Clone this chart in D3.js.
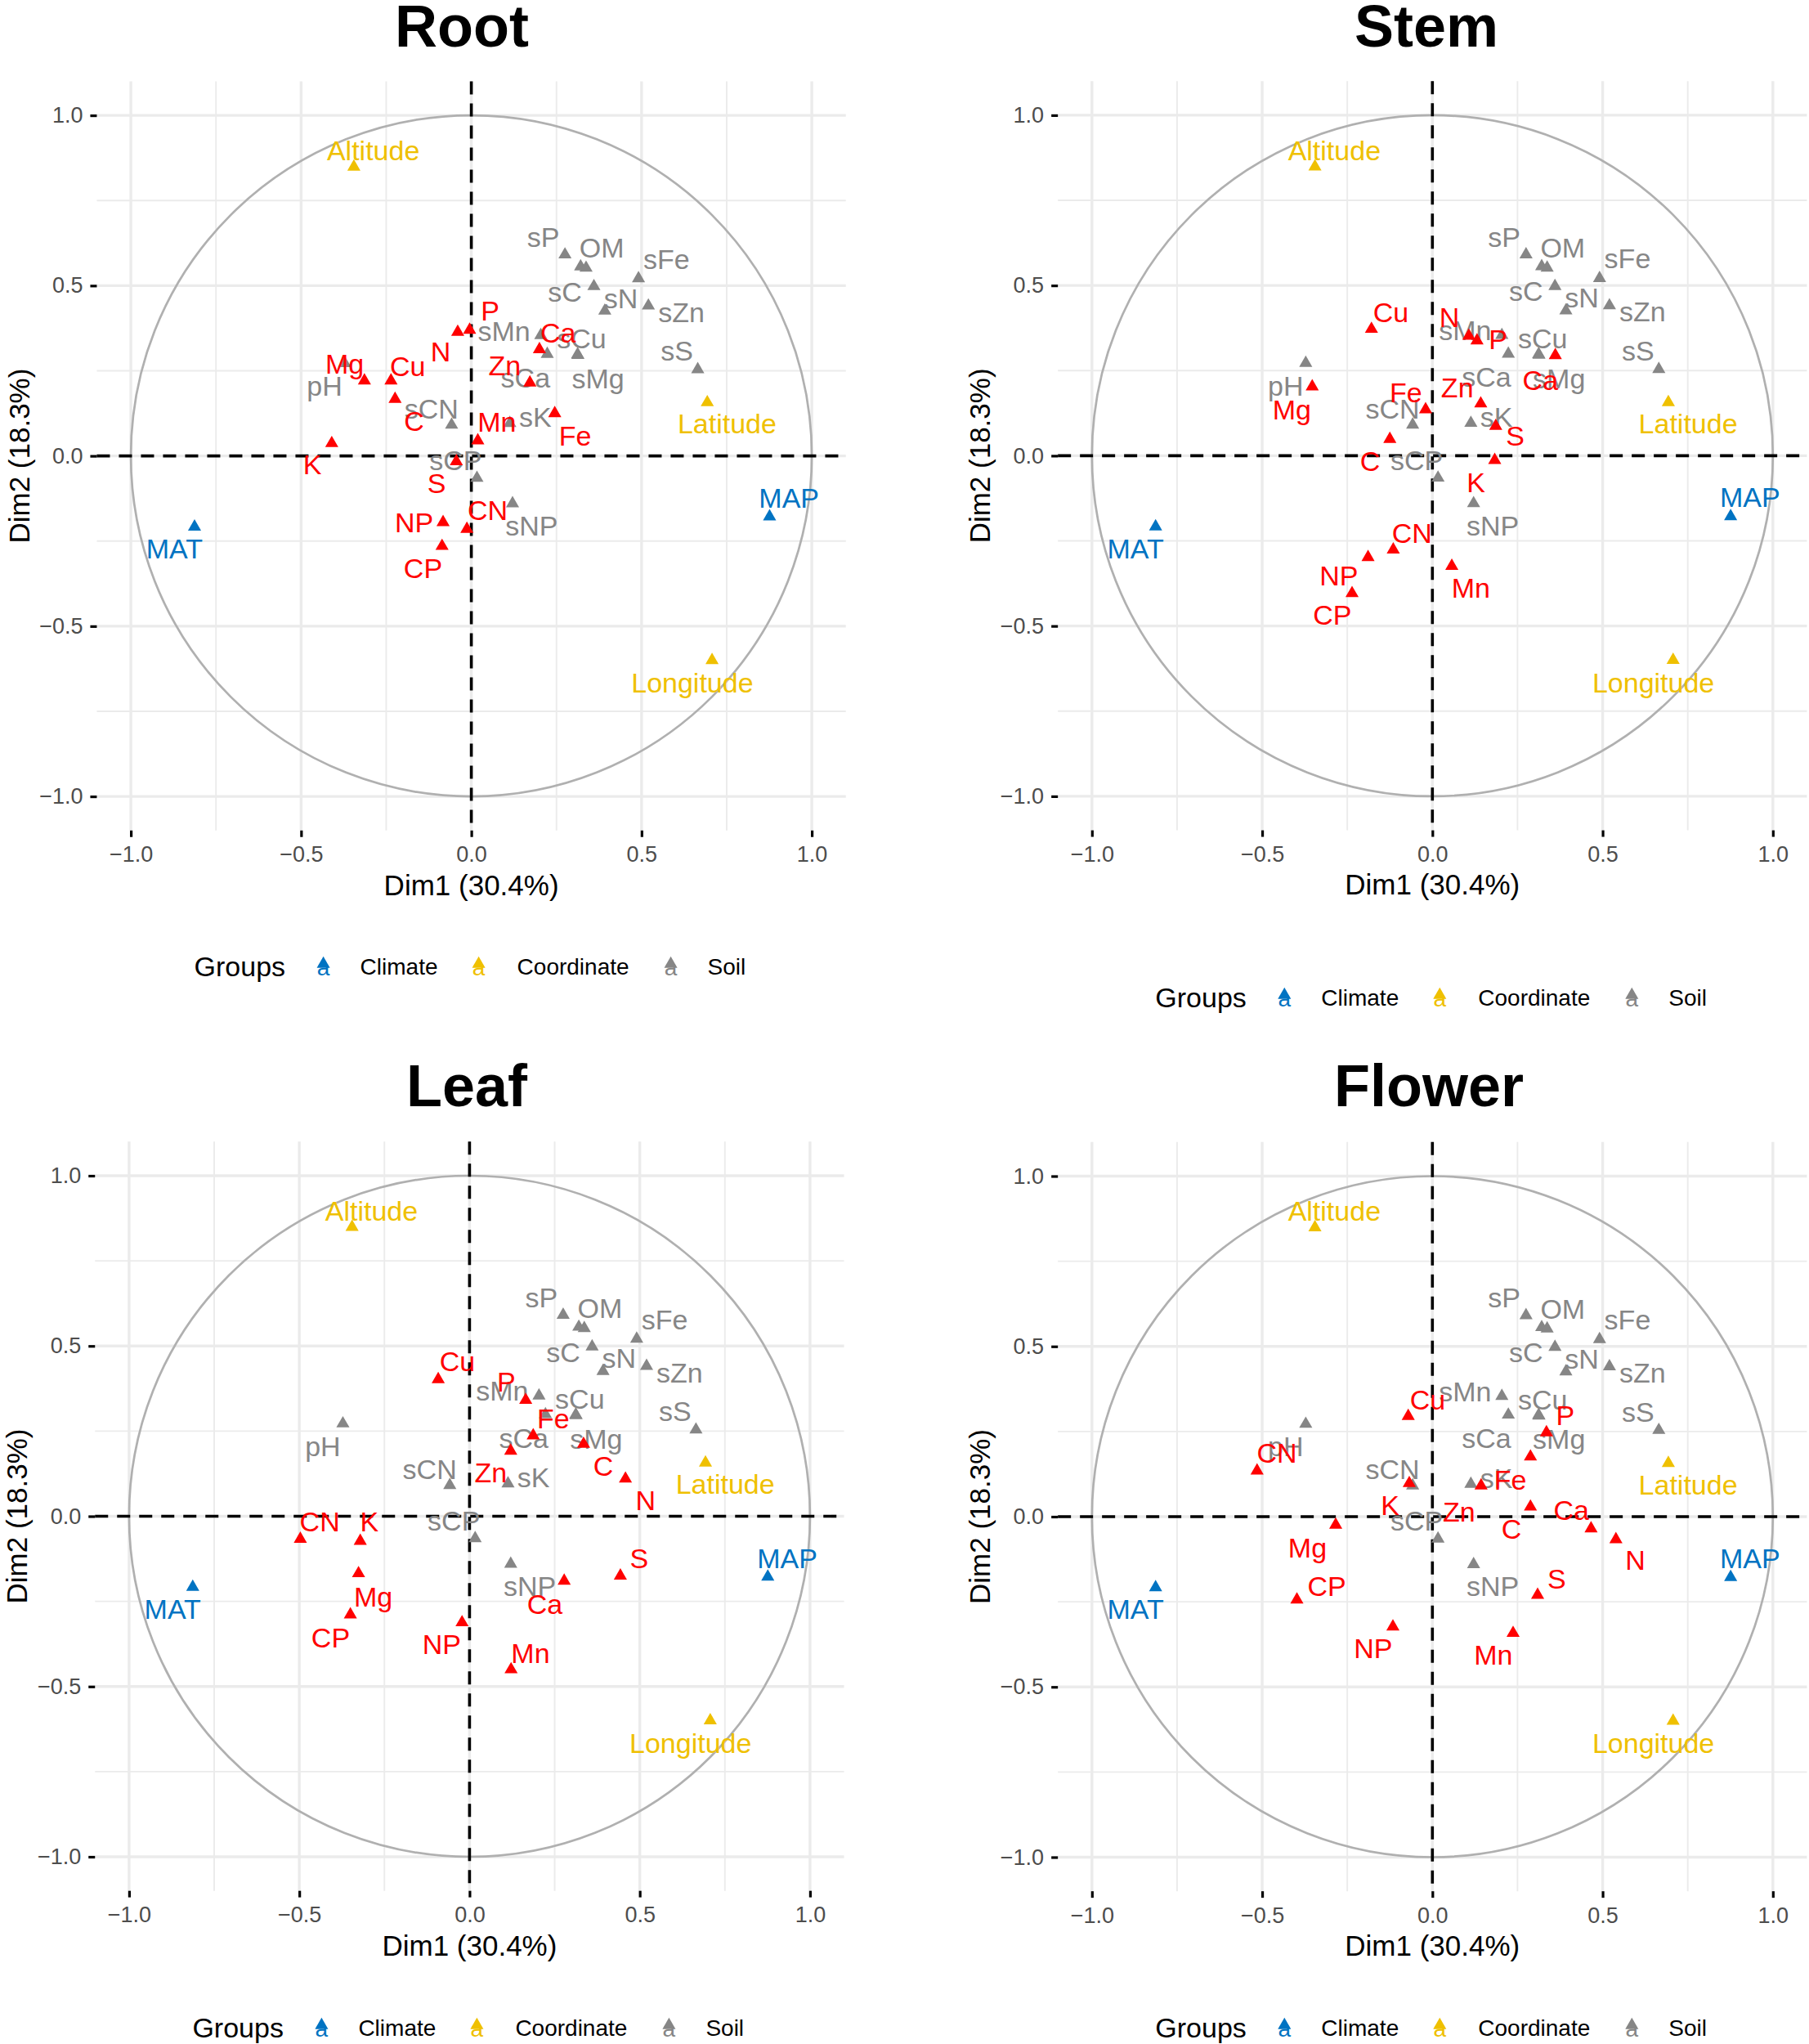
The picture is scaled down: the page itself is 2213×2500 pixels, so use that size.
<!DOCTYPE html>
<html>
<head>
<meta charset="utf-8">
<script src="https://cdn.jsdelivr.net/npm/d3@7"></script>
<style>
  html, body { margin: 0; padding: 0; background: #ffffff; }
  svg { display: block; font-family: "Liberation Sans", Arial, Helvetica, sans-serif; }
</style>
</head>
<body>
<svg id="chart" width="2213" height="2500"></svg>
<script>
// ---------------- DATA ----------------
const panelNames = ["Root", "Stem", "Leaf", "Flower"];
const xTitle = "Dim1 (30.4%)";
const yTitle = "Dim2 (18.3%)";
const majorTicks = [-1, -0.5, 0, 0.5, 1];
const minorTicks = [-0.75, -0.25, 0.25, 0.75];
const legendTitle = "Groups";
const groupNames = ["Climate", "Coordinate", "Soil"];

// supplementary variables (same in every panel)
const suppNames  = ["MAT", "MAP", "Altitude", "Latitude", "Longitude",
  "sP", "OM", "", "sFe", "sC", "sN", "sZn", "sMn", "sCu", "sCa", "sMg", "sS", "pH", "sCN", "sK", "sCP", "sNP"];
const suppGroup  = ["Climate", "Climate", "Coordinate", "Coordinate", "Coordinate",
  "Soil", "Soil", "Soil", "Soil", "Soil", "Soil", "Soil", "Soil", "Soil", "Soil", "Soil", "Soil", "Soil", "Soil", "Soil", "Soil", "Soil"];
const suppX  = [-0.813, 0.876, -0.345, 0.693, 0.707,
  0.275, 0.321, 0.337, 0.491, 0.360, 0.392, 0.520, 0.204, 0.312, 0.223, 0.313, 0.665, -0.372, -0.058, 0.113, 0.0165, 0.121];
const suppY  = [-0.208, -0.178, 0.849, 0.157, -0.600,
  0.591, 0.556, 0.552, 0.521, 0.498, 0.426, 0.441, 0.354, 0.298, 0.299, 0.296, 0.254, 0.272, 0.091, 0.096, -0.065, -0.140];
const suppLX = [-0.872, 0.933, -0.288, 0.751, 0.649,
  0.211, 0.383, 0.337, 0.573, 0.275, 0.439, 0.617, 0.096, 0.324, 0.159, 0.372, 0.604, -0.431, -0.117, 0.188, -0.046, 0.177];
const suppLY = [-0.271, -0.122, 0.898, 0.095, -0.665,
  0.643, 0.611, 0.552, 0.579, 0.483, 0.464, 0.423, 0.368, 0.345, 0.231, 0.228, 0.309, 0.206, 0.139, 0.114, -0.012, -0.204];

// active plant-element variables, per organ
const elemNames = ["C", "N", "P", "K", "Ca", "Mg", "S", "Fe", "Mn", "Cu", "Zn", "CN", "CP", "NP"];
const rootX  = [-0.224, -0.040, -0.005, -0.410, 0.200, -0.314, -0.044, 0.245, 0.019, -0.236, 0.172, -0.013, -0.086, -0.083];
const rootY  = [0.167, 0.364, 0.370, 0.037, 0.313, 0.221, -0.016, 0.125, 0.045, 0.221, 0.215, -0.215, -0.265, -0.195];
const rootLX = [-0.168, -0.090, 0.055, -0.467, 0.255, -0.372, -0.102, 0.305, 0.075, -0.187, 0.098, 0.048, -0.142, -0.168];
const rootLY = [0.104, 0.308, 0.426, -0.024, 0.362, 0.271, -0.080, 0.060, 0.100, 0.263, 0.267, -0.159, -0.330, -0.195];

const stemX  = [-0.125, 0.107, 0.131, 0.183, 0.361, -0.353, 0.186, -0.020, 0.057, -0.179, 0.142, -0.115, -0.236, -0.189];
const stemY  = [0.049, 0.352, 0.338, -0.013, 0.295, 0.203, 0.087, 0.136, -0.324, 0.372, 0.153, -0.276, -0.404, -0.298];
const stemLX = [-0.183, 0.050, 0.193, 0.128, 0.317, -0.413, 0.243, -0.078, 0.113, -0.122, 0.073, -0.060, -0.294, -0.275];
const stemLY = [-0.016, 0.407, 0.343, -0.078, 0.223, 0.136, 0.058, 0.187, -0.388, 0.421, 0.200, -0.227, -0.466, -0.351];

const leafX  = [0.335, 0.458, 0.165, -0.321, 0.278, -0.326, 0.443, 0.187, 0.122, -0.092, 0.121, -0.497, -0.350, -0.022];
const leafY  = [0.212, 0.110, 0.341, -0.073, -0.190, -0.168, -0.175, 0.237, -0.450, 0.402, 0.192, -0.067, -0.289, -0.312];
const leafLX = [0.393, 0.517, 0.108, -0.294, 0.221, -0.283, 0.498, 0.246, 0.179, -0.036, 0.062, -0.440, -0.408, -0.082];
const leafLY = [0.148, 0.048, 0.396, -0.016, -0.257, -0.236, -0.122, 0.288, -0.401, 0.455, 0.130, -0.016, -0.355, -0.374];

const flowerX  = [0.288, 0.539, 0.335, -0.068, 0.466, -0.284, 0.309, 0.288, 0.237, -0.071, 0.143, -0.515, -0.398, -0.116];
const flowerY  = [0.029, -0.067, 0.247, 0.098, -0.035, -0.024, -0.230, 0.176, -0.342, 0.295, 0.091, 0.135, -0.244, -0.323];
const flowerLX = [0.232, 0.596, 0.390, -0.124, 0.408, -0.367, 0.365, 0.229, 0.179, -0.014, 0.078, -0.457, -0.310, -0.174];
const flowerLY = [-0.035, -0.126, 0.299, 0.034, 0.020, -0.090, -0.181, 0.109, -0.406, 0.345, 0.016, 0.188, -0.204, -0.386];

// ---------------- STYLE / LAYOUT ----------------
const groupColor = { "Climate": "#0073C2", "Coordinate": "#EFC000", "Soil": "#868686" };
const activeColor = "#FF0000";
const UNIT = 416.5;
const LIM = 1.1;
const layout = [
  { cx: 576.6,  cy: 557.6,  titleX: 565,  titleY: 57,   legendY: 1182 },
  { cx: 1752.3, cy: 557.4,  titleX: 1745, titleY: 57,   legendY: 1220 },
  { cx: 574.4,  cy: 1854.5, titleX: 571,  titleY: 1353, legendY: 2480 },
  { cx: 1752.3, cy: 1855,   titleX: 1748, titleY: 1353, legendY: 2480 }
];
const elemSets = [
  [rootX, rootY, rootLX, rootLY],
  [stemX, stemY, stemLX, stemLY],
  [leafX, leafY, leafLX, leafLY],
  [flowerX, flowerY, flowerLX, flowerLY]
];

const svg = d3.select("#chart");
svg.append("rect").attr("width", 2213).attr("height", 2500).attr("fill", "#ffffff");

const tri = d3.symbol().type(d3.symbolTriangle).size(112);
const labelSize = 34;

panelNames.forEach((name, i) => {
  const L = layout[i];
  const g = svg.append("g");
  const x = d3.scaleLinear().domain([-LIM, LIM]).range([L.cx - LIM * UNIT, L.cx + LIM * UNIT]);
  const y = d3.scaleLinear().domain([-LIM, LIM]).range([L.cy + LIM * UNIT, L.cy - LIM * UNIT]);
  const [x0, x1] = x.range();
  const [y1, y0] = y.range();

  // grid
  const grid = g.append("g");
  minorTicks.forEach(t => {
    grid.append("line").attr("x1", x(t)).attr("x2", x(t)).attr("y1", y0).attr("y2", y1)
      .attr("stroke", "#EBEBEB").attr("stroke-width", 1.9);
    grid.append("line").attr("y1", y(t)).attr("y2", y(t)).attr("x1", x0).attr("x2", x1)
      .attr("stroke", "#EBEBEB").attr("stroke-width", 1.9);
  });
  majorTicks.forEach(t => {
    grid.append("line").attr("x1", x(t)).attr("x2", x(t)).attr("y1", y0).attr("y2", y1)
      .attr("stroke", "#EBEBEB").attr("stroke-width", 3.4);
    grid.append("line").attr("y1", y(t)).attr("y2", y(t)).attr("x1", x0).attr("x2", x1)
      .attr("stroke", "#EBEBEB").attr("stroke-width", 3.4);
  });

  // correlation circle
  g.append("ellipse").attr("cx", x(0)).attr("cy", y(0))
    .attr("rx", x(1) - x(0)).attr("ry", y(0) - y(1))
    .attr("fill", "none").attr("stroke", "#B0B0B0").attr("stroke-width", 2.7);

  // dashed reference lines
  g.append("line").attr("x1", x0).attr("x2", x1).attr("y1", y(0)).attr("y2", y(0))
    .attr("stroke", "#000").attr("stroke-width", 3.6).attr("stroke-dasharray", "16,11");
  g.append("line").attr("x1", x(0)).attr("x2", x(0)).attr("y1", y0).attr("y2", y1)
    .attr("stroke", "#000").attr("stroke-width", 3.6).attr("stroke-dasharray", "16,11");

  // axes
  const fmt = d3.format(".1f");
  const ax = g.append("g").attr("transform", `translate(0,${y1})`)
    .call(d3.axisBottom(x).tickValues(majorTicks).tickFormat(fmt).tickSize(8).tickPadding(11.5));
  const ay = g.append("g").attr("transform", `translate(${x0},0)`)
    .call(d3.axisLeft(y).tickValues(majorTicks).tickFormat(fmt).tickSize(8).tickPadding(9));
  [ax, ay].forEach(a => {
    a.select(".domain").remove();
    a.selectAll(".tick line").attr("stroke", "#000").attr("stroke-width", 3.2);
    a.selectAll(".tick text").attr("fill", "#4D4D4D").style("font-size", "27px")
      .style("font-family", "Liberation Sans, Arial, sans-serif");
  });

  // axis titles
  g.append("text").attr("x", x(0)).attr("y", L.cy + 537)
    .attr("text-anchor", "middle").style("font-size", "35px").attr("fill", "#000").text(xTitle);
  g.append("text").attr("transform", `translate(${L.cx - 541},${L.cy}) rotate(-90)`)
    .attr("text-anchor", "middle").style("font-size", "35px").attr("fill", "#000").text(yTitle);

  // title
  g.append("text").attr("x", L.titleX).attr("y", L.titleY)
    .attr("text-anchor", "middle").style("font-size", "72px").style("font-weight", "bold")
    .attr("fill", "#000").text(name);

  // supplementary points + labels
  const supp = suppNames.map((n, k) => ({ n, grp: suppGroup[k], x: suppX[k], y: suppY[k], lx: suppLX[k], ly: suppLY[k] }));
  g.append("g").selectAll("path").data(supp).join("path")
    .attr("d", tri).attr("transform", d => `translate(${x(d.x)},${y(d.y)})`)
    .attr("fill", d => groupColor[d.grp]);
  g.append("g").selectAll("text").data(supp.filter(d => d.n !== "")).join("text")
    .attr("x", d => x(d.lx)).attr("y", d => y(d.ly)).attr("dy", "0.36em")
    .attr("text-anchor", "middle").style("font-size", labelSize + "px")
    .attr("fill", d => groupColor[d.grp]).text(d => d.n);

  // active variables (red)
  const [ex, ey, elx, ely] = elemSets[i];
  const act = elemNames.map((n, k) => ({ n, x: ex[k], y: ey[k], lx: elx[k], ly: ely[k] }));
  g.append("g").selectAll("path").data(act).join("path")
    .attr("d", tri).attr("transform", d => `translate(${x(d.x)},${y(d.y)})`)
    .attr("fill", activeColor);
  g.append("g").selectAll("text").data(act).join("text")
    .attr("x", d => x(d.lx)).attr("y", d => y(d.ly)).attr("dy", "0.36em")
    .attr("text-anchor", "middle").style("font-size", labelSize + "px")
    .attr("fill", activeColor).text(d => d.n);

  // legend
  const lg = g.append("g");
  lg.append("text").attr("x", L.cx - 339).attr("y", L.legendY + 12)
    .style("font-size", "34px").attr("fill", "#000").text(legendTitle);
  const keyOff = [-181, 9, 244];
  const txtOff = [-136, 56, 289];
  groupNames.forEach((gn, k) => {
    const kx = L.cx + keyOff[k];
    lg.append("path").attr("d", tri).attr("transform", `translate(${kx},${L.legendY - 3})`)
      .attr("fill", groupColor[gn]);
    lg.append("text").attr("x", kx).attr("y", L.legendY + 11).attr("text-anchor", "middle")
      .style("font-size", "28px").attr("fill", groupColor[gn]).text("a");
    lg.append("text").attr("x", L.cx + txtOff[k]).attr("y", L.legendY + 10)
      .style("font-size", "28px").attr("fill", "#000").text(gn);
  });
});
</script>
</body>
</html>
